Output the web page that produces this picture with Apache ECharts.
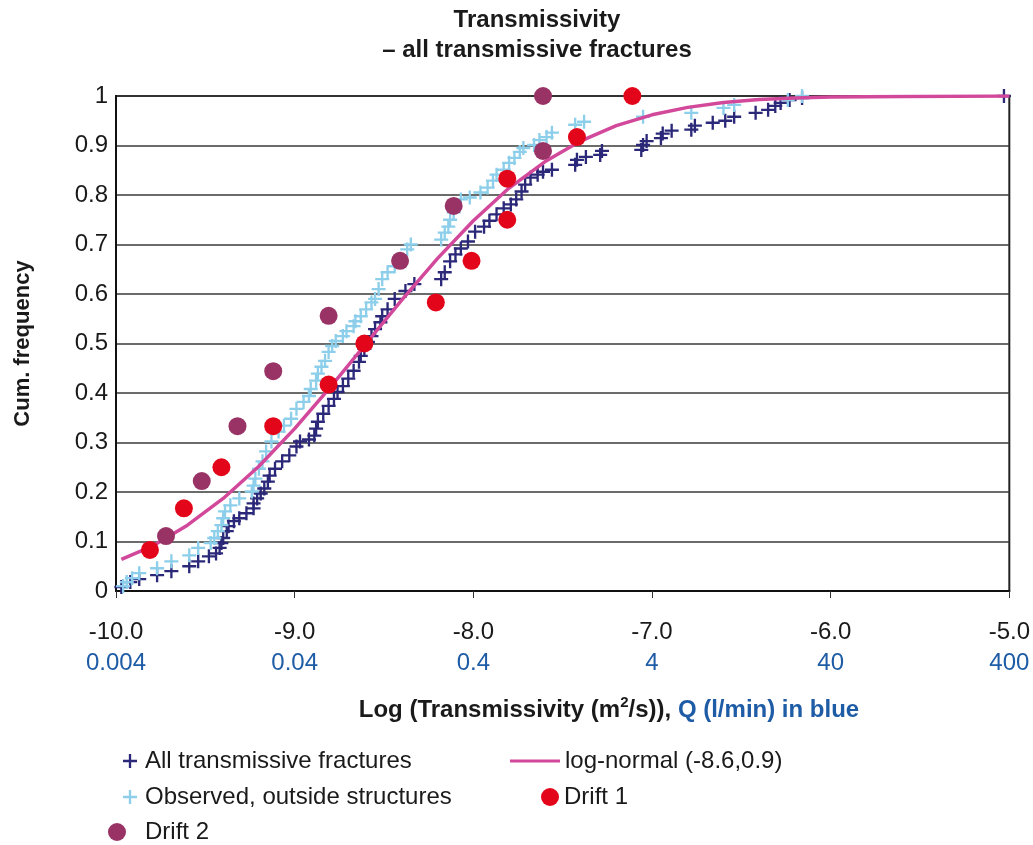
<!DOCTYPE html>
<html>
<head>
<meta charset="utf-8">
<title>Transmissivity - all transmissive fractures</title>
<script src="https://cdn.jsdelivr.net/npm/echarts@6/dist/echarts.min.js"></script>
<style>
  html, body { margin: 0; padding: 0; background: #fff; }
  #chart { width: 1033px; height: 845px; }
</style>
</head>
<body>
<div id="chart"></div>
<script>
// axis tick labels: log T on first row, Q (l/min) in blue below
const xTickLabels = ['-10.0', '-9.0', '-8.0', '-7.0', '-6.0', '-5.0'];
const qTickLabels = ['0.004', '0.04', '0.4', '4', '40', '400'];

// All transmissive fractures (log T, cum. frequency)
const allX = [-9.97, -9.92, -9.87, -9.77, -9.69, -9.59, -9.54, -9.48, -9.44, -9.42,
  -9.41, -9.40, -9.38, -9.37, -9.34, -9.31, -9.27, -9.23, -9.23, -9.21,
  -9.19, -9.17, -9.15, -9.14, -9.11, -9.07, -9.03, -8.99, -8.97, -8.92,
  -8.89, -8.88, -8.87, -8.84, -8.81, -8.78, -8.76, -8.73, -8.70, -8.67,
  -8.64, -8.63, -8.61, -8.59, -8.57, -8.55, -8.52, -8.51, -8.48, -8.44,
  -8.38, -8.33, -8.18, -8.16, -8.13, -8.10, -8.07, -8.03, -7.99, -7.94,
  -7.91, -7.87, -7.83, -7.79, -7.76, -7.73, -7.71, -7.68, -7.64, -7.61,
  -7.56, -7.43, -7.42, -7.37, -7.29, -7.28, -7.06, -7.05, -7.03, -6.95,
  -6.94, -6.89, -6.78, -6.76, -6.66, -6.59, -6.54, -6.42, -6.35, -6.31,
  -6.28, -6.23, -6.16, -5.03];
const allY = [0.008, 0.018, 0.024, 0.032, 0.040, 0.050, 0.060, 0.070, 0.076, 0.087,
  0.097, 0.107, 0.121, 0.131, 0.141, 0.147, 0.157, 0.167, 0.177, 0.187,
  0.197, 0.207, 0.221, 0.233, 0.247, 0.262, 0.274, 0.292, 0.302, 0.306,
  0.314, 0.328, 0.342, 0.358, 0.374, 0.388, 0.402, 0.414, 0.429, 0.445,
  0.463, 0.475, 0.489, 0.503, 0.515, 0.529, 0.543, 0.555, 0.569, 0.590,
  0.606, 0.620, 0.630, 0.644, 0.666, 0.680, 0.692, 0.706, 0.726, 0.736,
  0.748, 0.761, 0.773, 0.781, 0.791, 0.807, 0.821, 0.835, 0.841, 0.847,
  0.851, 0.861, 0.871, 0.877, 0.881, 0.889, 0.891, 0.901, 0.909, 0.915,
  0.924, 0.930, 0.932, 0.940, 0.946, 0.950, 0.958, 0.966, 0.972, 0.980,
  0.986, 0.992, 0.996, 1.000];

// Observed, outside structures
const obsX = [-9.96, -9.94, -9.91, -9.87, -9.77, -9.69, -9.59, -9.54, -9.47, -9.45,
  -9.43, -9.41, -9.40, -9.39, -9.36, -9.31, -9.24, -9.23, -9.22, -9.20,
  -9.18, -9.16, -9.13, -9.09, -9.06, -9.02, -8.99, -8.95, -8.92, -8.91,
  -8.88, -8.87, -8.85, -8.83, -8.81, -8.79, -8.77, -8.73, -8.71, -8.67,
  -8.66, -8.63, -8.60, -8.57, -8.55, -8.53, -8.51, -8.48, -8.44, -8.41,
  -8.37, -8.35, -8.18, -8.16, -8.14, -8.13, -8.11, -8.07, -8.02, -7.96,
  -7.92, -7.89, -7.87, -7.83, -7.80, -7.77, -7.74, -7.72, -7.66, -7.63,
  -7.59, -7.56, -7.43, -7.38, -7.05, -6.78, -6.60, -6.54, -6.24, -6.16];
const obsY = [0.010, 0.018, 0.026, 0.036, 0.046, 0.060, 0.072, 0.087, 0.097, 0.107,
  0.121, 0.133, 0.147, 0.161, 0.173, 0.187, 0.201, 0.213, 0.227, 0.247,
  0.262, 0.282, 0.302, 0.322, 0.334, 0.348, 0.368, 0.382, 0.394, 0.408,
  0.425, 0.439, 0.453, 0.465, 0.483, 0.495, 0.505, 0.515, 0.525, 0.535,
  0.545, 0.555, 0.569, 0.583, 0.590, 0.610, 0.630, 0.644, 0.656, 0.670,
  0.690, 0.700, 0.710, 0.724, 0.736, 0.750, 0.765, 0.791, 0.795, 0.805,
  0.815, 0.829, 0.841, 0.851, 0.865, 0.875, 0.887, 0.895, 0.901, 0.911,
  0.917, 0.926, 0.942, 0.948, 0.958, 0.966, 0.976, 0.982, 0.992, 1.000];

// log-normal (-8.6, 0.9)
const logNormX = [-9.97, -9.8, -9.6, -9.4, -9.2, -9.0, -8.8, -8.6, -8.4, -8.2, -8.0, -7.8,
  -7.6, -7.4, -7.2, -7.0, -6.8, -6.6, -6.4, -6.2, -6.0, -5.6, -5.0];
const logNormY = [0.064, 0.090, 0.133, 0.187, 0.252, 0.328, 0.412, 0.500, 0.588, 0.672, 0.748, 0.814,
  0.867, 0.909, 0.940, 0.962, 0.977, 0.987, 0.993, 0.996, 0.998, 0.999, 1.000];

// Drift 1
const drift1X = [-9.81, -9.62, -9.41, -9.12, -8.81, -8.61, -8.21, -8.01, -7.81, -7.81, -7.42, -7.11];
const drift1Y = [0.083, 0.167, 0.250, 0.333, 0.417, 0.500, 0.583, 0.667, 0.750, 0.833, 0.917, 1.000];

// Drift 2
const drift2X = [-9.72, -9.52, -9.32, -9.12, -8.81, -8.41, -8.11, -7.61, -7.61];
const drift2Y = [0.111, 0.222, 0.333, 0.444, 0.556, 0.667, 0.778, 0.889, 1.000];

function pairs(xs, ys) {
  return xs.map(function (x, i) { return [x, ys[i]]; });
}

const FONT = '"Liberation Sans", Arial, Helvetica, sans-serif';
const plus = 'path://M5,0H7V5H12V7H7V12H5V7H0V5H5Z';
const colAll = '#2b2879';
const colObs = '#8dcfea';
const colLog = '#d2489b';
const colD1 = '#e3061a';
const colD2 = '#993366';
const qBlue = '#1f5ca6';

const chart = echarts.init(document.getElementById('chart'), null, { renderer: 'canvas' });

function oneLegend(name, left, top, w, h, icon, pad) {
  const lg = {
    data: [name],
    left: left,
    top: top,
    itemWidth: w,
    itemHeight: h,
    selectedMode: false,
    textStyle: { fontFamily: FONT, fontSize: 24, color: '#1a1a1a', padding: pad || 0 }
  };
  if (icon) { lg.data = [{ name: name, icon: icon }]; }
  return lg;
}

const option = {
  backgroundColor: '#fff',
  animation: false,
  title: [
    {
      text: 'Transmissivity\n– all transmissive fractures',
      left: 532,
      top: 0,
      textAlign: 'center',
      textStyle: { fontFamily: FONT, fontSize: 24, fontWeight: 'bold', color: '#1a1a1a', lineHeight: 30 }
    },
    {
      text: '{k|Log (Transmissivity (m}{s|2}{k|/s)), }{b|Q (l/min) in blue}',
      left: 604,
      top: 690,
      textAlign: 'center',
      textStyle: {
        rich: {
          k: { fontFamily: FONT, fontSize: 24, fontWeight: 'bold', color: '#1a1a1a', lineHeight: 30 },
          s: { fontFamily: FONT, fontSize: 15, fontWeight: 'bold', color: '#1a1a1a', verticalAlign: 'top', lineHeight: 30, padding: [0, 0, 10, 0] },
          b: { fontFamily: FONT, fontSize: 24, fontWeight: 'bold', color: qBlue, lineHeight: 30 }
        }
      }
    }
  ],
  legend: [
    oneLegend('All transmissive fractures', 118, 744, 14, 14, null, [0, 0, 0, 3]),
    oneLegend('Observed, outside structures', 118, 780, 14, 14, null, [0, 0, 0, 3]),
    oneLegend('Drift 2', 103, 815, 18, 18, null, [0, 0, 0, 14]),
    oneLegend('log-normal (-8.6,0.9)', 505, 744, 50, 3, 'rect'),
    oneLegend('Drift 1', 536, 780, 18, 18)
  ],
  grid: {
    left: 116,
    right: 18,
    top: 96,
    bottom: 254,
    show: true,
    borderColor: '#222',
    borderWidth: 2
  },
  xAxis: {
    type: 'value',
    min: -10,
    max: -5,
    interval: 1,
    axisLine: { show: true, onZero: false, lineStyle: { color: '#111', width: 2 } },
    axisTick: { show: true, length: 7, lineStyle: { color: '#333', width: 1 } },
    splitLine: { show: false },
    axisLabel: {
      margin: 26,
      formatter: function (v) {
        const i = Math.round(v + 10);
        return '{t|' + xTickLabels[i] + '}\n{q|' + qTickLabels[i] + '}';
      },
      rich: {
        t: { fontFamily: FONT, fontSize: 24, color: '#1a1a1a', lineHeight: 31 },
        q: { fontFamily: FONT, fontSize: 24, color: qBlue, lineHeight: 31 }
      }
    }
  },
  yAxis: {
    type: 'value',
    min: 0,
    max: 1,
    interval: 0.1,
    name: 'Cum. frequency',
    nameLocation: 'middle',
    nameRotate: 90,
    nameGap: 82,
    nameTextStyle: { fontFamily: FONT, fontSize: 22, fontWeight: 'bold', color: '#1a1a1a' },
    axisLine: { show: true, lineStyle: { color: '#111', width: 2 } },
    axisTick: { show: false },
    splitLine: { show: true, lineStyle: { color: '#3a3a3a', width: 1.5 } },
    axisLabel: {
      margin: 8,
      fontFamily: FONT,
      fontSize: 24,
      color: '#1a1a1a',
      formatter: function (v) {
        if (v === 0) return '0';
        if (Math.abs(v - 1) < 1e-9) return '1';
        return v.toFixed(1);
      }
    }
  },
  series: [
    {
      name: 'All transmissive fractures',
      type: 'scatter',
      symbol: plus,
      symbolSize: 14,
      itemStyle: { color: colAll, opacity: 1 },
      data: pairs(allX, allY),
      z: 2
    },
    {
      name: 'log-normal (-8.6,0.9)',
      type: 'line',
      showSymbol: false,
      symbol: 'none',
      lineStyle: { color: colLog, width: 3.5 },
      itemStyle: { color: colLog },
      data: pairs(logNormX, logNormY),
      z: 3
    },
    {
      name: 'Observed, outside structures',
      type: 'scatter',
      symbol: plus,
      symbolSize: 14,
      itemStyle: { color: colObs, opacity: 1 },
      data: pairs(obsX, obsY),
      z: 2
    },
    {
      name: 'Drift 1',
      type: 'scatter',
      symbol: 'circle',
      symbolSize: 18,
      itemStyle: { color: colD1, opacity: 1 },
      data: pairs(drift1X, drift1Y),
      z: 4
    },
    {
      name: 'Drift 2',
      type: 'scatter',
      symbol: 'circle',
      symbolSize: 18,
      itemStyle: { color: colD2, opacity: 1 },
      data: pairs(drift2X, drift2Y),
      z: 4
    }
  ]
};

chart.setOption(option);
</script>
</body>
</html>
